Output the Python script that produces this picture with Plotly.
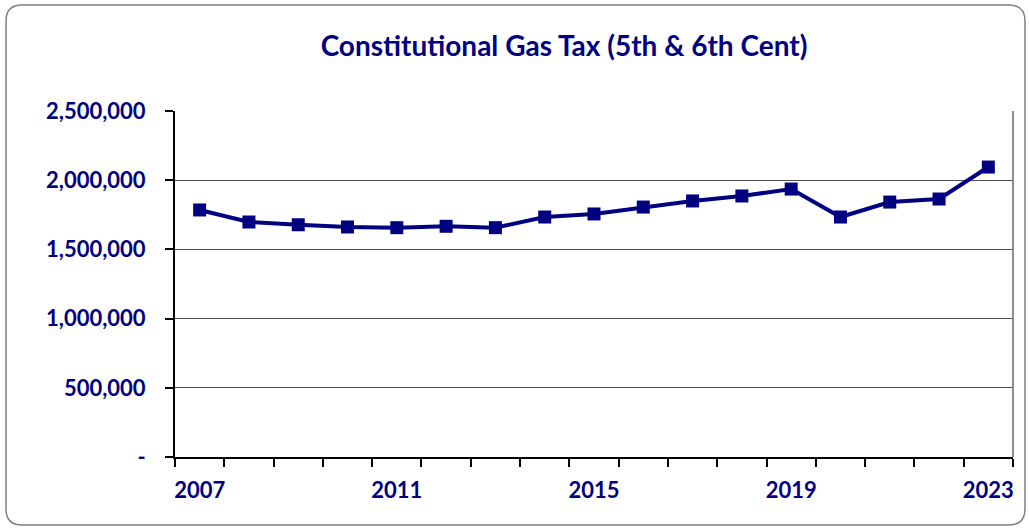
import plotly.graph_objects as go

years = list(range(2007, 2024))
revenue = [1785000, 1698000, 1678000, 1662000, 1657000, 1667000, 1657000,
           1734000, 1756000, 1806000, 1850000, 1886000, 1936000, 1734000,
           1842000, 1864000, 2095000]

y_tickvals = [0, 500000, 1000000, 1500000, 2000000, 2500000]
y_ticktext = ['-', '500,000', '1,000,000', '1,500,000', '2,000,000', '2,500,000']
x_tickvals = [2007, 2011, 2015, 2019, 2023]

navy = '#000080'
font_family = 'Lato, Carlito, Calibri, sans-serif'

W, H = 1029, 529
ml, mr, mt, mb = 175, 16, 111, 72
pw, ph = W - ml - mr, H - mt - mb


def px_to_paper(x, y):
    return (x - ml) / pw, (H - mb - y) / ph


# rounded outer frame, built in pixels then converted to paper coords
left, top, right, bottom, r = 6, 5, 1025, 525, 16
pts = [
    ('M', left + r, top), ('L', right - r, top), ('Q', right, top, right, top + r),
    ('L', right, bottom - r), ('Q', right, bottom, right - r, bottom),
    ('L', left + r, bottom), ('Q', left, bottom, left, bottom - r),
    ('L', left, top + r), ('Q', left, top, left + r, top),
]
path = ''
for p in pts:
    cmd, coords = p[0], p[1:]
    conv = []
    for i in range(0, len(coords), 2):
        cx, cy = px_to_paper(coords[i], coords[i + 1])
        conv.append(f'{cx:.5f},{cy:.5f}')
    path += cmd + ' '.join(conv) + ' '
path += 'Z'

fig = go.Figure()
fig.add_trace(go.Scatter(
    x=years, y=revenue, mode='lines+markers',
    line=dict(color=navy, width=4),
    marker=dict(symbol='square', size=13, color=navy),
    showlegend=False,
))

fig.update_layout(
    width=W, height=H,
    margin=dict(l=ml, r=mr, t=mt, b=mb, autoexpand=False),
    paper_bgcolor='white', plot_bgcolor='white',
    title=dict(text='Constitutional Gas Tax (5th & 6th Cent)',
               x=564 / W, xanchor='center', xref='container',
               y=1 - 46 / H, yanchor='middle', yref='container',
               font=dict(family=font_family, size=28, color=navy, weight='bold')),
    font=dict(family=font_family, color=navy),
    shapes=[
        dict(type='path', path=path, xref='paper', yref='paper',
             line=dict(color='#7f7f7f', width=1.5), layer='below'),
        dict(type='line', xref='paper', yref='paper', x0=1, x1=1, y0=0, y1=1,
             line=dict(color='#8c8c8c', width=2)),
    ],
)

fig.update_xaxes(
    range=[2006.5, 2023.5], tickmode='array', tickvals=x_tickvals,
    ticks='', showgrid=False, zeroline=False, automargin=False,
    showline=True, linecolor='black', linewidth=2,
    tickfont=dict(family=font_family, size=22, color=navy, weight='bold'),
    ticklabelstandoff=13,
    minor=dict(tick0=2006.5, dtick=1, ticks='outside', ticklen=8,
               tickcolor='black', tickwidth=1.5, showgrid=False),
)
fig.update_yaxes(
    range=[0, 2500000], tickmode='array', tickvals=y_tickvals, ticktext=y_ticktext,
    ticks='outside', ticklen=8, tickcolor='black', tickwidth=1.5,
    showgrid=True, gridcolor='#4d4d4d', gridwidth=1, zeroline=False,
    showline=True, linecolor='black', linewidth=2, automargin=False,
    tickfont=dict(family=font_family, size=22, color=navy, weight='bold'),
    ticklabelstandoff=15,
)

# page body has a default margin; drop it so the figure sits at the window's corner
fig.write_html('out.html', config={'displayModeBar': False},
               post_script="document.body.style.margin='0';")
